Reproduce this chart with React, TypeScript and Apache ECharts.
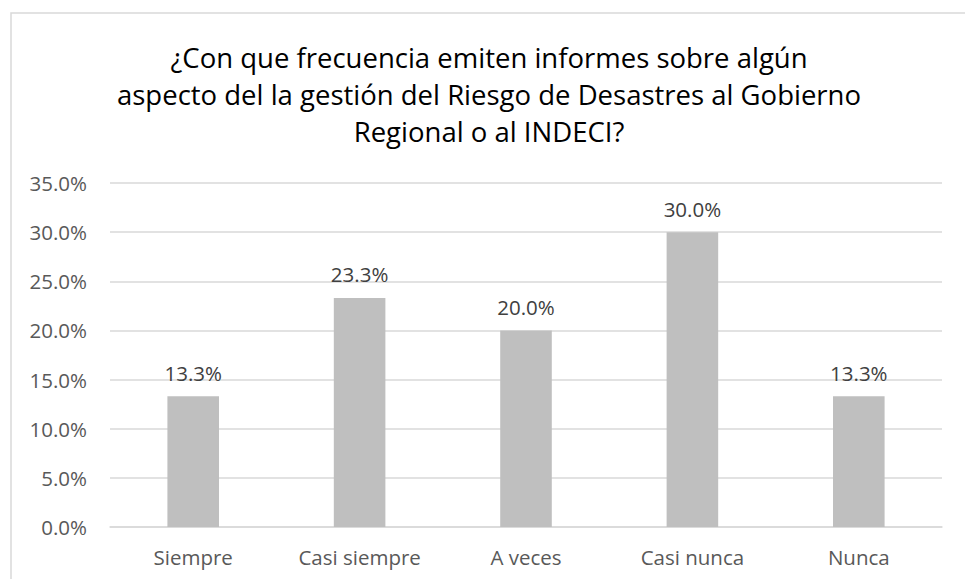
import React, { useEffect, useRef } from "react";
import * as echarts from "echarts";

const categories = ["Siempre", "Casi siempre", "A veces", "Casi nunca", "Nunca"];
const values = [13.3, 23.3, 20.0, 30.0, 13.3];
const titleLines = [
  "¿Con que frecuencia emiten informes sobre algún",
  "aspecto del la gestión del Riesgo de Desastres al Gobierno",
  "Regional o al INDECI?",
];

const FONT = "'Open Sans', 'Noto Sans', sans-serif";

export default function App() {
  const ref = useRef<HTMLDivElement>(null);
  useEffect(() => {
    document.body.style.margin = "0";
    const chart = echarts.init(ref.current!, undefined, { renderer: "svg" });
    chart.setOption({
      animation: false,
      backgroundColor: "#ffffff",
      graphic: [
        {
          type: "rect",
          shape: { x: 11, y: 13, width: 1000, height: 600 },
          style: { fill: "none", stroke: "#D9D9D9", lineWidth: 1.5 },
          silent: true,
        },
        {
          type: "text",
          x: 489,
          y: 39,
          style: {
            text: titleLines.join("\n"),
            font: `27.5px ${FONT}`,
            fill: "#000000",
            align: "center",
            verticalAlign: "top",
            lineHeight: 37,
          },
        },
      ],
      grid: { left: 110, right: 23, top: 183, bottom: 52 },
      xAxis: {
        type: "category",
        data: categories,
        axisLine: { lineStyle: { color: "#D9D9D9", width: 1.5 } },
        axisTick: { show: false },
        axisLabel: { color: "#595959", fontSize: 20.5, fontFamily: FONT, margin: 19 },
      },
      yAxis: {
        type: "value",
        min: 0,
        max: 35,
        interval: 5,
        axisLine: { show: false },
        axisTick: { show: false },
        splitLine: { lineStyle: { color: "#D9D9D9", width: 1.5 } },
        axisLabel: {
          color: "#595959",
          fontSize: 20.5,
          fontFamily: FONT,
          margin: 23,
          formatter: (v: number) => v.toFixed(1) + "%",
        },
      },
      series: [
        {
          type: "bar",
          data: values,
          barWidth: "31%",
          itemStyle: { color: "#BFBFBF" },
          label: {
            show: true,
            position: "top",
            distance: 13,
            color: "#404040",
            fontSize: 20.5,
            fontFamily: FONT,
            formatter: (p: any) => p.value.toFixed(1) + "%",
          },
        },
      ],
    });
    return () => chart.dispose();
  }, []);
  return <div ref={ref} style={{ position: "fixed", left: 0, top: 0, width: 965, height: 579 }} />;
}
